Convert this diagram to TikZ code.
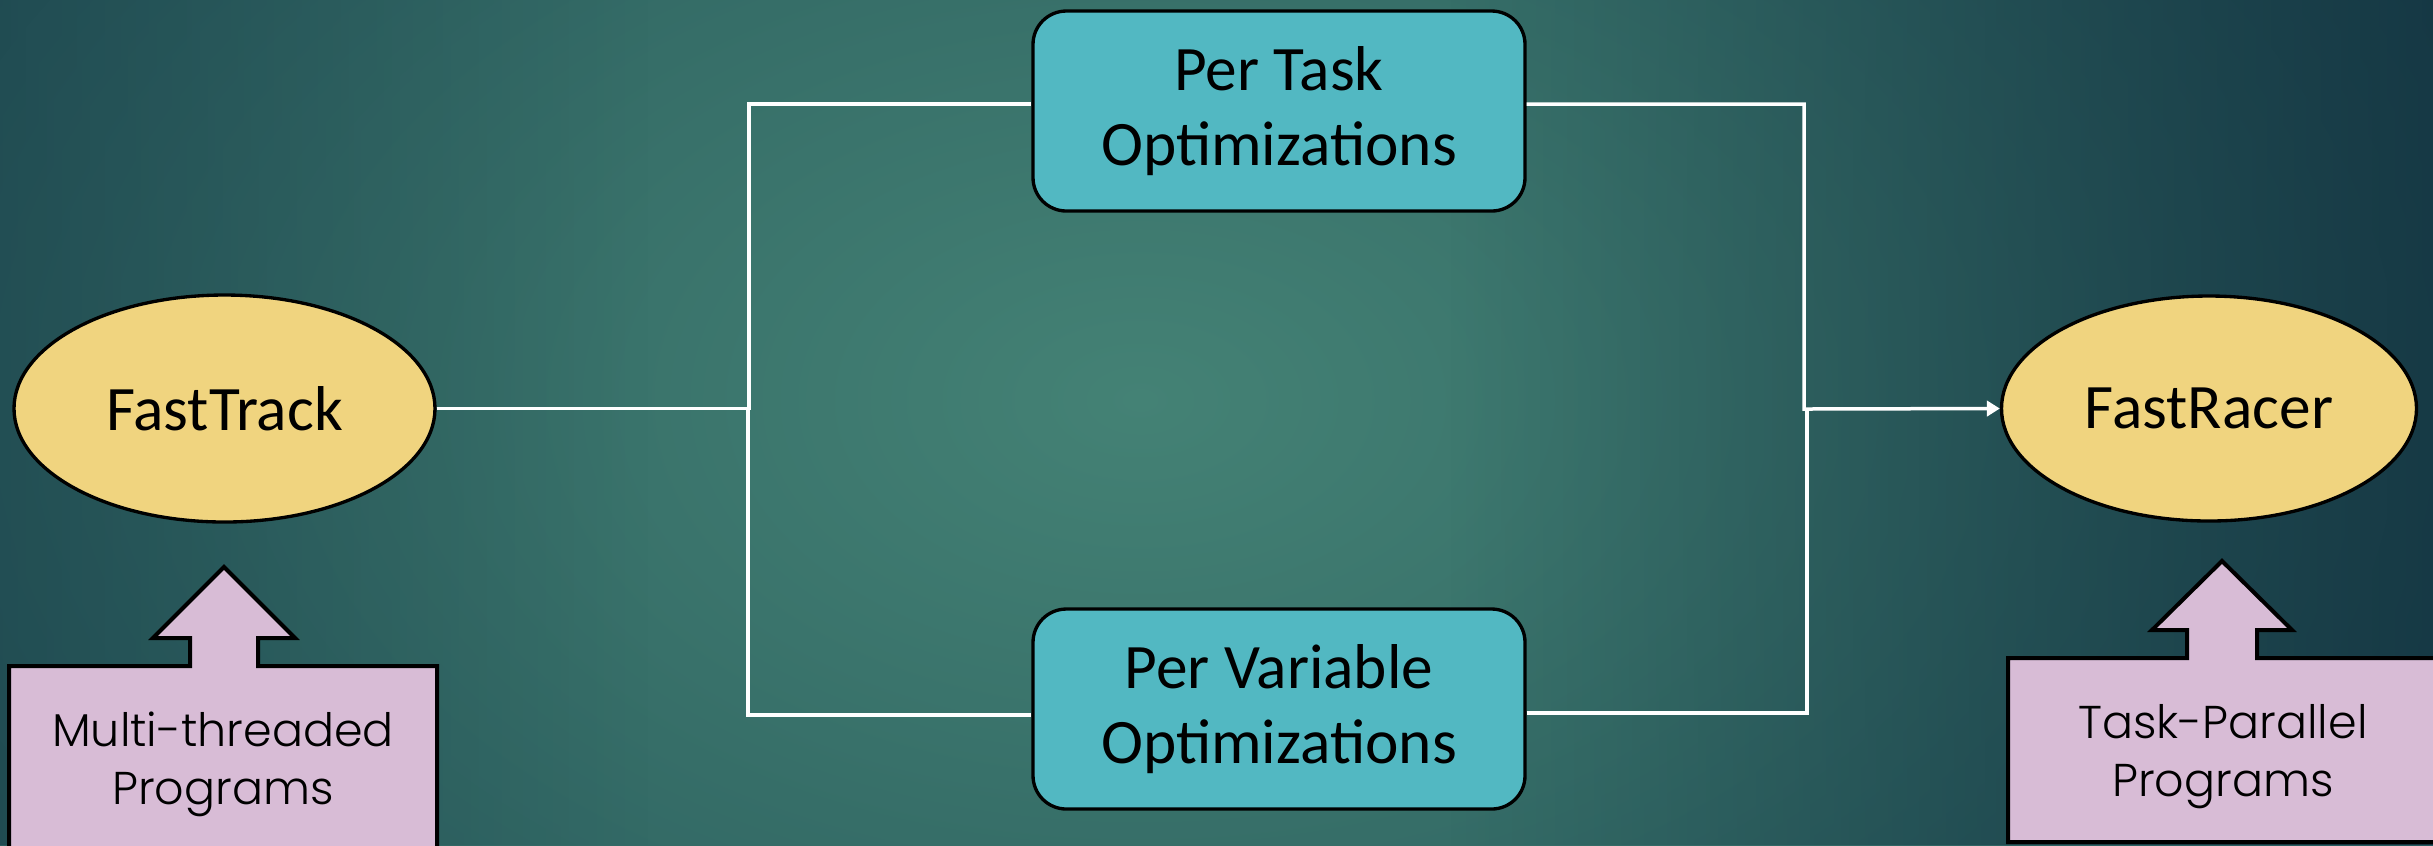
\documentclass[tikz,border=0pt]{standalone}
\usepackage{fontspec}
\setmainfont{Carlito}
\newfontfamily\gothic{Poppins Light}
\usetikzlibrary{shapes.geometric,arrows.meta,fadings}

\definecolor{ovalfill}{RGB}{240,212,127}
\definecolor{boxfill}{RGB}{82,184,194}
\definecolor{calloutfill}{RGB}{216,188,214}
\definecolor{bgA}{RGB}{68,130,117}
\definecolor{bgB}{RGB}{54,110,104}
\definecolor{bgC}{RGB}{33,81,89}
\definecolor{bgD}{RGB}{24,62,74}
\definecolor{bgShadow}{RGB}{14,42,58}

% soft radial glow for the slide background
\pgfdeclareradialshading{slidebg}{\pgfpoint{0bp}{0bp}}{%
  color(0bp)=(bgA); color(12bp)=(bgB); color(30bp)=(bgC);
  color(42bp)=(bgD); color(50bp)=(bgD)}
\tikzfading[name=darkright, left color=transparent!100, right color=transparent!0]
\tikzfading[name=darkleft, left color=transparent!0, right color=transparent!100]

\tikzset{
  oval/.style={ellipse, draw=black, line width=1pt, fill=ovalfill,
    font=\fontsize{19}{23}\selectfont},
  optbox/.style={rectangle, rounded corners=10pt, draw=black, line width=1pt,
    fill=boxfill, minimum width=147.6pt, minimum height=60pt, align=center,
    font=\fontsize{19}{22.5}\selectfont},
  wire/.style={draw=white, line width=1.05pt},
  callout/.style={fill=calloutfill, draw=black, line width=1.2pt, line join=miter},
  callnote/.style={align=center, font=\gothic\fontsize{13.8}{17.4}\selectfont},
}

\begin{document}
\begin{tikzpicture}[x=0.3pt,y=-0.3pt]
\useasboundingbox (0,0) rectangle (2433,845);
\clip (0,0) rectangle (2433,845);

% background
\shade[shading=slidebg] (1140,400) ellipse [x radius=450pt, y radius=285pt];
\fill[bgShadow, path fading=darkright, fill opacity=0.7] (1450,0) rectangle (2433,845);
\fill[bgShadow, path fading=darkleft, fill opacity=0.35] (0,0) rectangle (650,845);

% main nodes
\node[oval, minimum width=126.3pt, minimum height=68.1pt] (ft) at (224.5,408.5) {FastTrack};
\node[oval, minimum width=124.5pt, minimum height=67.5pt] (fr) at (2209,408.5) {FastRacer};
\node[optbox] (pt) at (1279,111) {Per Task\\Optimizations};
\node[optbox] (pv) at (1279,709) {Per Variable\\Optimizations};

% elbow connectors
\coordinate (jl) at (749,409);
\coordinate (jr) at (1804,409);
\coordinate (jr2) at (1807,409);
\coordinate (ltop) at (749,104);
\coordinate (lbot) at (748,715);
\coordinate (rtop) at (1804,104);
\coordinate (rbot) at (1807,713);
\draw[wire] (ft.east) -- (ft.east -| jl) -- (ltop) -- (pt.west |- ltop);
\draw[wire] (ft.east) -- (ft.east -| lbot) -- (lbot) -- (pv.west |- lbot);
\draw[wire] (pv.east |- rbot) -- (rbot) -- (jr2);
\draw[wire, -{Triangle[length=3.9pt,width=4.6pt]}] (pt.east |- rtop) -- (rtop) -- (jr) -- (fr.west);

% up-arrow callouts
\path[callout] (224,567) -- (295,638) -- (258,638) -- (258,666) -- (437,666)
  -- (437,880) -- (9,880) -- (9,666) -- (190,666) -- (190,638) -- (153,638) -- cycle;
\node[callnote] (mt) at (223,764) {Multi-threaded\\Programs};

\path[callout] (2222,561) -- (2292,630) -- (2257,630) -- (2257,658) -- (2460,658)
  -- (2460,842) -- (2008,842) -- (2008,658) -- (2187,658) -- (2187,630) -- (2152,630) -- cycle;
\node[callnote] (tp) at (2223,757) {Task-Parallel\\Programs};
\end{tikzpicture}
\end{document}
